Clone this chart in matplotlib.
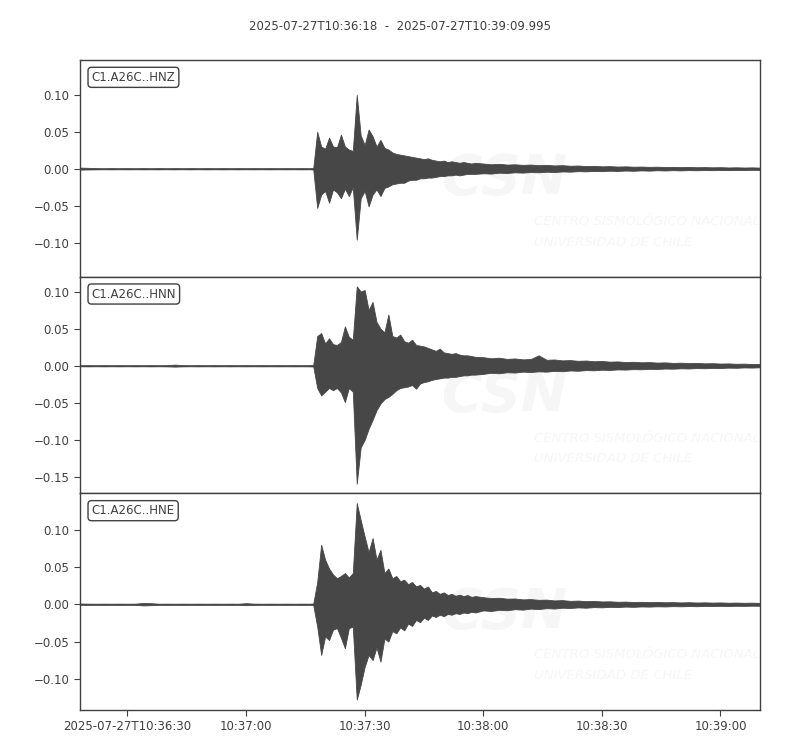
import numpy as np
import matplotlib
matplotlib.use("Agg")
import matplotlib.pyplot as plt

title = "2025-07-27T10:36:18  -  2025-07-27T10:39:09.995"
channels = ["C1.A26C..HNZ", "C1.A26C..HNN", "C1.A26C..HNE"]
tick_seconds = [12, 42, 72, 102, 132, 162]
tick_labels = ["2025-07-27T10:36:30", "10:37:00", "10:37:30",
               "10:38:00", "10:38:30", "10:39:00"]
t_end = 171.995

# envelope knot times (seconds after 10:36:18)
pre_t = np.arange(0, 59, 2)      # 30 knots
main_t = np.arange(59, 101, 1)   # 42 knots
tail_t = np.arange(102, 173, 2)  # 36 knots

# ---- HNZ ----
z_pre_up = [0.0015, 0.0012, 0.0008, 0.0007, 0.0008, 0.0007,
            0.0008, 0.0007, 0.0008, 0.0007, 0.0008, 0.0007,
            0.0008, 0.0007, 0.0008, 0.0007, 0.0008, 0.0007,
            0.0008, 0.0007, 0.0008, 0.0007, 0.0008, 0.0007,
            0.0008, 0.0007, 0.0008, 0.0007, 0.0008, 0.0007]
z_pre_lo = [-0.0012, -0.0010, -0.0008, -0.0007, -0.0008, -0.0007,
            -0.0008, -0.0007, -0.0008, -0.0007, -0.0008, -0.0007,
            -0.0008, -0.0007, -0.0008, -0.0007, -0.0008, -0.0007,
            -0.0008, -0.0007, -0.0008, -0.0007, -0.0008, -0.0007,
            -0.0008, -0.0007, -0.0008, -0.0007, -0.0008, -0.0007]
z_main_up = [0.001, 0.050, 0.030, 0.027, 0.042, 0.030,
             0.029, 0.046, 0.030, 0.026, 0.024, 0.100,
             0.045, 0.032, 0.053, 0.044, 0.030, 0.039,
             0.028, 0.026, 0.022, 0.020, 0.019, 0.018,
             0.017, 0.016, 0.015, 0.014, 0.013, 0.014,
             0.012, 0.011, 0.010, 0.011, 0.009, 0.010,
             0.009, 0.008, 0.009, 0.008, 0.007, 0.008]
z_main_lo = [-0.001, -0.053, -0.035, -0.030, -0.046, -0.028,
             -0.032, -0.040, -0.027, -0.037, -0.025, -0.096,
             -0.040, -0.030, -0.051, -0.035, -0.028, -0.037,
             -0.026, -0.024, -0.021, -0.020, -0.019, -0.019,
             -0.016, -0.015, -0.015, -0.013, -0.013, -0.012,
             -0.012, -0.011, -0.010, -0.010, -0.009, -0.009,
             -0.008, -0.009, -0.008, -0.007, -0.007, -0.007]
z_tail_up = [0.0070, 0.0060, 0.0066, 0.0056, 0.0060, 0.0052,
             0.0056, 0.0048, 0.0052, 0.0044, 0.0048, 0.0040,
             0.0043, 0.0036, 0.0039, 0.0032, 0.0035, 0.0029,
             0.0032, 0.0027, 0.0029, 0.0025, 0.0027, 0.0023,
             0.0025, 0.0021, 0.0024, 0.0020, 0.0022, 0.0019,
             0.0021, 0.0017, 0.0019, 0.0016, 0.0018, 0.0015]
z_tail_lo = [-0.0062, -0.0066, -0.0054, -0.0058, -0.0049, -0.0053,
             -0.0045, -0.0049, -0.0041, -0.0045, -0.0037, -0.0040,
             -0.0033, -0.0036, -0.0030, -0.0033, -0.0027, -0.0030,
             -0.0025, -0.0028, -0.0023, -0.0026, -0.0021, -0.0024,
             -0.0020, -0.0023, -0.0019, -0.0021, -0.0018, -0.0020,
             -0.0017, -0.0019, -0.0016, -0.0017, -0.0015, -0.0016]

# ---- HNN ----
n_pre_up = [0.0007, 0.0008, 0.0007, 0.0008, 0.0007, 0.0008,
            0.0007, 0.0008, 0.0007, 0.0008, 0.0007, 0.0008,
            0.0015, 0.0008, 0.0007, 0.0008, 0.0007, 0.0008,
            0.0007, 0.0008, 0.0007, 0.0008, 0.0007, 0.0008,
            0.0007, 0.0008, 0.0007, 0.0008, 0.0007, 0.0008]
n_pre_lo = [-0.0007, -0.0008, -0.0007, -0.0008, -0.0007, -0.0008,
            -0.0007, -0.0008, -0.0007, -0.0008, -0.0007, -0.0008,
            -0.0012, -0.0008, -0.0007, -0.0008, -0.0007, -0.0008,
            -0.0007, -0.0008, -0.0007, -0.0008, -0.0007, -0.0008,
            -0.0007, -0.0008, -0.0007, -0.0008, -0.0007, -0.0008]
n_main_up = [0.001, 0.040, 0.044, 0.030, 0.037, 0.029,
             0.028, 0.032, 0.053, 0.039, 0.035, 0.107,
             0.100, 0.102, 0.075, 0.086, 0.059, 0.050,
             0.045, 0.069, 0.040, 0.038, 0.042, 0.033,
             0.031, 0.035, 0.028, 0.027, 0.026, 0.024,
             0.022, 0.020, 0.023, 0.018, 0.017, 0.016,
             0.017, 0.015, 0.014, 0.014, 0.013, 0.012]
n_main_lo = [-0.001, -0.030, -0.040, -0.035, -0.030, -0.033,
             -0.030, -0.036, -0.049, -0.030, -0.035, -0.159,
             -0.110, -0.100, -0.085, -0.073, -0.060, -0.051,
             -0.045, -0.042, -0.038, -0.033, -0.030, -0.029,
             -0.028, -0.026, -0.031, -0.024, -0.022, -0.021,
             -0.019, -0.018, -0.017, -0.016, -0.016, -0.015,
             -0.015, -0.014, -0.013, -0.013, -0.012, -0.012]
n_tail_up = [0.0115, 0.0100, 0.0108, 0.0092, 0.0098, 0.0086,
             0.0090, 0.0140, 0.0080, 0.0084, 0.0072, 0.0076,
             0.0066, 0.0070, 0.0060, 0.0064, 0.0055, 0.0058,
             0.0050, 0.0053, 0.0046, 0.0049, 0.0042, 0.0045,
             0.0038, 0.0041, 0.0035, 0.0038, 0.0032, 0.0034,
             0.0029, 0.0031, 0.0026, 0.0028, 0.0023, 0.0024]
n_tail_lo = [-0.0110, -0.0096, -0.0102, -0.0088, -0.0092, -0.0080,
             -0.0085, -0.0076, -0.0080, -0.0070, -0.0074, -0.0064,
             -0.0068, -0.0059, -0.0062, -0.0054, -0.0057, -0.0050,
             -0.0052, -0.0046, -0.0048, -0.0042, -0.0044, -0.0038,
             -0.0040, -0.0035, -0.0037, -0.0032, -0.0034, -0.0029,
             -0.0031, -0.0026, -0.0028, -0.0023, -0.0025, -0.0021]

# ---- HNE ----
e_pre_up = [0.0010, 0.0008, 0.0007, 0.0008, 0.0007, 0.0008,
            0.0007, 0.0008, 0.0018, 0.0015, 0.0007, 0.0008,
            0.0007, 0.0008, 0.0007, 0.0008, 0.0007, 0.0008,
            0.0007, 0.0008, 0.0007, 0.0015, 0.0008, 0.0007,
            0.0008, 0.0007, 0.0008, 0.0007, 0.0008, 0.0007]
e_pre_lo = [-0.0008, -0.0008, -0.0007, -0.0008, -0.0007, -0.0008,
            -0.0007, -0.0008, -0.0015, -0.0012, -0.0007, -0.0008,
            -0.0007, -0.0008, -0.0007, -0.0008, -0.0007, -0.0008,
            -0.0007, -0.0008, -0.0007, -0.0012, -0.0008, -0.0007,
            -0.0008, -0.0007, -0.0008, -0.0007, -0.0008, -0.0007]
e_main_up = [0.001, 0.030, 0.080, 0.060, 0.048, 0.040,
             0.035, 0.038, 0.042, 0.036, 0.042, 0.136,
             0.113, 0.091, 0.070, 0.089, 0.060, 0.073,
             0.042, 0.048, 0.035, 0.038, 0.031, 0.033,
             0.027, 0.030, 0.024, 0.026, 0.021, 0.024,
             0.016, 0.018, 0.014, 0.016, 0.0125, 0.014,
             0.0115, 0.013, 0.011, 0.0125, 0.010, 0.011]
e_main_lo = [-0.001, -0.030, -0.068, -0.043, -0.048, -0.034,
             -0.032, -0.045, -0.059, -0.032, -0.030, -0.128,
             -0.108, -0.084, -0.068, -0.075, -0.058, -0.077,
             -0.046, -0.050, -0.036, -0.039, -0.031, -0.035,
             -0.026, -0.029, -0.021, -0.024, -0.018, -0.021,
             -0.015, -0.017, -0.014, -0.016, -0.013, -0.014,
             -0.012, -0.013, -0.011, -0.012, -0.010, -0.011]
e_tail_up = [0.0095, 0.0084, 0.0088, 0.0076, 0.0078, 0.0066,
             0.0070, 0.0060, 0.0063, 0.0052, 0.0056, 0.0046,
             0.0050, 0.0042, 0.0045, 0.0038, 0.0040, 0.0034,
             0.0036, 0.0031, 0.0033, 0.0029, 0.0031, 0.0027,
             0.0029, 0.0025, 0.0028, 0.0024, 0.0026, 0.0023,
             0.0025, 0.0021, 0.0023, 0.0020, 0.0022, 0.0019]
e_tail_lo = [-0.0082, -0.0090, -0.0074, -0.0080, -0.0066, -0.0072,
             -0.0058, -0.0064, -0.0052, -0.0057, -0.0046, -0.0050,
             -0.0042, -0.0046, -0.0038, -0.0041, -0.0034, -0.0037,
             -0.0031, -0.0034, -0.0029, -0.0031, -0.0027, -0.0029,
             -0.0025, -0.0027, -0.0024, -0.0026, -0.0022, -0.0024,
             -0.0021, -0.0023, -0.0020, -0.0021, -0.0019, -0.0020]

ylims = [(-0.146, 0.147), (-0.172, 0.120), (-0.142, 0.149)]
yticks = [[-0.10, -0.05, 0.00, 0.05, 0.10],
          [-0.15, -0.10, -0.05, 0.00, 0.05, 0.10],
          [-0.10, -0.05, 0.00, 0.05, 0.10]]

upper = [(z_pre_up, z_main_up, z_tail_up),
         (n_pre_up, n_main_up, n_tail_up),
         (e_pre_up, e_main_up, e_tail_up)]
lower = [(z_pre_lo, z_main_lo, z_tail_lo),
         (n_pre_lo, n_main_lo, n_tail_lo),
         (e_pre_lo, e_main_lo, e_tail_lo)]

wave_col = "#474747"
frame_col = "#404040"
text_col = "#404040"
wm_col = "#f6f6f6"

plt.rcParams["font.family"] = ["DejaVu Sans"]
fig, axes = plt.subplots(3, 1, figsize=(8, 7.5), dpi=100, sharex=True)
fig.subplots_adjust(left=0.1, right=0.95, top=0.92, bottom=0.0533, hspace=0)

t_all = np.concatenate([pre_t, main_t, tail_t]).astype(float)
for i, ax in enumerate(axes):
    up = np.concatenate([np.asarray(a, float) for a in upper[i]])
    lo = np.concatenate([np.asarray(a, float) for a in lower[i]])
    # faint watermark
    ax.text(0.625, 0.45, "CSN", transform=ax.transAxes, ha="center", va="center",
            fontsize=40, fontweight="bold", style="italic", color=wm_col, zorder=0)
    ax.text(0.668, 0.255, "CENTRO SISMOLÓGICO NACIONAL", transform=ax.transAxes,
            ha="left", va="center", fontsize=9.5, style="italic", color=wm_col,
            zorder=0)
    ax.text(0.668, 0.16, "UNIVERSIDAD DE CHILE", transform=ax.transAxes,
            ha="left", va="center", fontsize=9.5, style="italic", color=wm_col,
            zorder=0)
    ax.fill_between(t_all, lo, up, color=wave_col, linewidth=0.6,
                    edgecolor=wave_col, zorder=2)
    ax.plot([0, t_end], [0, 0], color=wave_col, linewidth=0.8, zorder=2)
    ax.set_xlim(0, t_end)
    ax.set_ylim(*ylims[i])
    ax.set_yticks(yticks[i])
    ax.set_yticklabels(["%.2f" % v if v >= 0 else "\u2212%.2f" % -v for v in yticks[i]])
    for sp in ax.spines.values():
        sp.set_color(frame_col)
        sp.set_linewidth(1.0)
    ax.tick_params(axis="both", direction="out", length=4, width=0.8,
                   color=frame_col, labelcolor=text_col, labelsize=8.5)
    ax.text(0.017, 0.92, channels[i], transform=ax.transAxes, ha="left", va="center",
            fontsize=8.5, color=text_col, zorder=5,
            bbox=dict(boxstyle="round,pad=0.3", fc="white", ec=frame_col, lw=1.0))
    if i < 2:
        ax.tick_params(axis="x", bottom=False, labelbottom=False)

axes[-1].set_xticks(tick_seconds)
axes[-1].set_xticklabels(tick_labels)
fig.suptitle(title, y=0.973, fontsize=8.5, color=text_col)

fig.savefig("out.png", dpi=100)
